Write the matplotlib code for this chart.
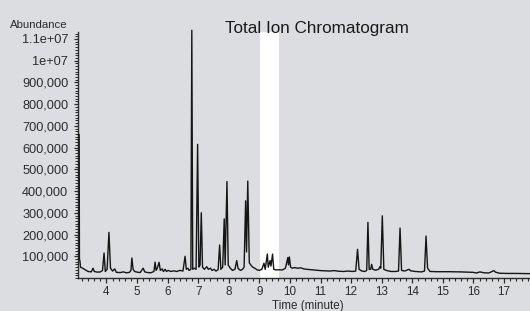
import matplotlib
matplotlib.use("Agg")
import matplotlib.pyplot as plt
from matplotlib.ticker import MultipleLocator, FixedLocator, FixedFormatter

# ---- data ----
time_min = [3.09, 3.105, 3.115, 3.13, 3.15, 3.22, 3.30, 3.40, 3.50, 3.56, 3.60, 3.70, 3.80, 3.87,
            3.92, 3.96, 4.02, 4.08, 4.13, 4.20, 4.27, 4.32, 4.45, 4.55, 4.65, 4.75, 4.80, 4.83,
            4.87, 4.92, 5.00, 5.10, 5.20, 5.25, 5.35, 5.45, 5.55, 5.59, 5.62, 5.66, 5.72, 5.76,
            5.82, 5.86, 5.92, 5.96, 6.02, 6.10, 6.20, 6.30, 6.40, 6.50, 6.57, 6.61, 6.66, 6.70,
            6.76, 6.79, 6.82, 6.87, 6.93, 6.98, 7.02, 7.06, 7.10, 7.14, 7.20, 7.28, 7.33, 7.40,
            7.45, 7.52, 7.58, 7.65, 7.70, 7.74, 7.80, 7.85, 7.88, 7.94, 7.98, 8.05, 8.12, 8.20,
            8.26, 8.30, 8.38, 8.45, 8.50, 8.55, 8.58, 8.62, 8.67, 8.72, 8.78, 8.85, 8.92, 9.00,
            9.08, 9.15, 9.19, 9.26, 9.29, 9.35, 9.38, 9.43, 9.47, 9.55, 9.65, 9.75, 9.85, 9.93,
            9.95, 9.98, 10.02, 10.08, 10.15, 10.25, 10.35, 10.45, 10.55, 10.70, 10.85, 11.00,
            11.15, 11.30, 11.45, 11.60, 11.75, 11.90, 12.05, 12.15, 12.21, 12.26, 12.35, 12.45,
            12.51, 12.55, 12.59, 12.64, 12.67, 12.71, 12.80, 12.90, 12.94, 12.97, 13.02, 13.07,
            13.15, 13.30, 13.45, 13.55, 13.60, 13.65, 13.75, 13.89, 13.95, 14.10, 14.30, 14.40,
            14.45, 14.50, 14.58, 14.80, 15.20, 15.60, 16.00, 16.10, 16.21, 16.35, 16.50, 16.67,
            16.72, 16.85, 17.10, 17.40, 17.70, 17.85]
abundance = [660000, 660000, 85000, 80000, 50000, 45000, 38000, 30000, 28000, 45000, 30000, 27000, 28000, 35000,
             115000, 30000, 40000, 210000, 45000, 32000, 42000, 26000, 25000, 28000, 24000, 26000, 35000, 92000,
             40000, 30000, 27000, 25000, 45000, 28000, 25000, 24000, 30000, 73000, 35000, 45000, 72000, 35000,
             42000, 30000, 40000, 30000, 35000, 30000, 33000, 30000, 35000, 32000, 100000, 40000, 45000, 35000,
             40000, 1140000, 40000, 45000, 40000, 615000, 50000, 60000, 300000, 50000, 40000, 52000, 40000, 45000,
             35000, 40000, 32000, 38000, 152000, 40000, 50000, 272000, 60000, 444000, 60000, 45000, 35000, 40000,
             80000, 45000, 35000, 40000, 50000, 355000, 120000, 446000, 70000, 60000, 50000, 45000, 38000, 35000,
             40000, 68000, 40000, 110000, 50000, 80000, 55000, 110000, 40000, 37000, 38000, 37000, 45000, 94000,
             60000, 97000, 50000, 45000, 48000, 45000, 47000, 42000, 40000, 38000, 36000, 34000,
             33000, 32000, 34000, 31000, 30000, 32000, 30000, 32000, 132000, 40000, 32000, 30000,
             35000, 256000, 40000, 40000, 63000, 40000, 36000, 40000, 52000, 45000, 286000, 40000,
             35000, 30000, 30000, 32000, 230000, 35000, 32000, 40000, 33000, 30000, 28000, 32000,
             193000, 45000, 30000, 29000, 29000, 28000, 26000, 23000, 28000, 24000, 23000, 34000,
             27000, 22000, 21000, 21000, 20000, 20000]

y_tick_values = [100000, 200000, 300000, 400000, 500000, 600000, 700000, 800000, 900000, 1000000, 1100000]
y_tick_labels = ["100,000", "200,000", "300,000", "400,000", "500,000", "600,000",
                 "700,000", "800,000", "900,000", "1e+07", "1.1e+07"]
x_tick_values = [4, 5, 6, 7, 8, 9, 10, 11, 12, 13, 14, 15, 16, 17]
x_tick_labels = [str(v) for v in x_tick_values]
blank_band = (9.03, 9.65)

title = "Total Ion Chromatogram"
y_label = "Abundance"
x_label = "Time (minute)"

# ---- styling ----
BG = "#dcdde0"
INK = "#2b2b2b"
FONT = ["Liberation Sans", "DejaVu Sans"]
plt.rcParams["font.family"] = FONT

fig = plt.figure(figsize=(5.30, 3.11), dpi=100, facecolor=BG)
ax = fig.add_axes([78 / 530, 1 - 278 / 311, 1 - 78 / 530, (278 - 32) / 311])
ax.set_facecolor(BG)

ax.axvspan(blank_band[0], blank_band[1], color="white", zorder=1, lw=0)
ax.plot(time_min, abundance, color="#151515", lw=1.0, zorder=3, clip_on=False)

ax.set_xlim(3.068, 17.85)
ax.set_ylim(0, 1132000)

for s in ["top", "right"]:
    ax.spines[s].set_visible(False)
for s in ["left", "bottom"]:
    ax.spines[s].set_color(INK)
    ax.spines[s].set_linewidth(1.0)

ax.xaxis.set_major_locator(FixedLocator(x_tick_values))
ax.xaxis.set_major_formatter(FixedFormatter(x_tick_labels))
ax.xaxis.set_minor_locator(MultipleLocator(0.2))
ax.yaxis.set_major_locator(FixedLocator(y_tick_values))
ax.yaxis.set_major_formatter(FixedFormatter(y_tick_labels))
ax.yaxis.set_minor_locator(MultipleLocator(12500))

ax.tick_params(axis="x", which="major", length=3.6, width=0.9, color=INK, labelsize=8.4,
               labelcolor=INK, pad=2)
ax.tick_params(axis="x", which="minor", length=2.2, width=0.8, color=INK)
ax.tick_params(axis="y", which="major", length=3.2, width=0.9, color=INK, labelsize=9.2,
               labelcolor=INK, pad=3.8)
ax.tick_params(axis="y", which="minor", length=2.2, width=0.7, color=INK)

fig.text(316.5 / 530, 1 - 33 / 311, title, ha="center", va="baseline", fontsize=12.3, color="#1a1a1a")
fig.text(68 / 530, 1 - 28 / 311, y_label, ha="right", va="baseline", fontsize=8.2, color=INK)
fig.text(308 / 530, 1 - 309 / 311, x_label, ha="center", va="baseline", fontsize=8.4, color=INK)

fig.savefig("out.png", dpi=100, facecolor=BG)
